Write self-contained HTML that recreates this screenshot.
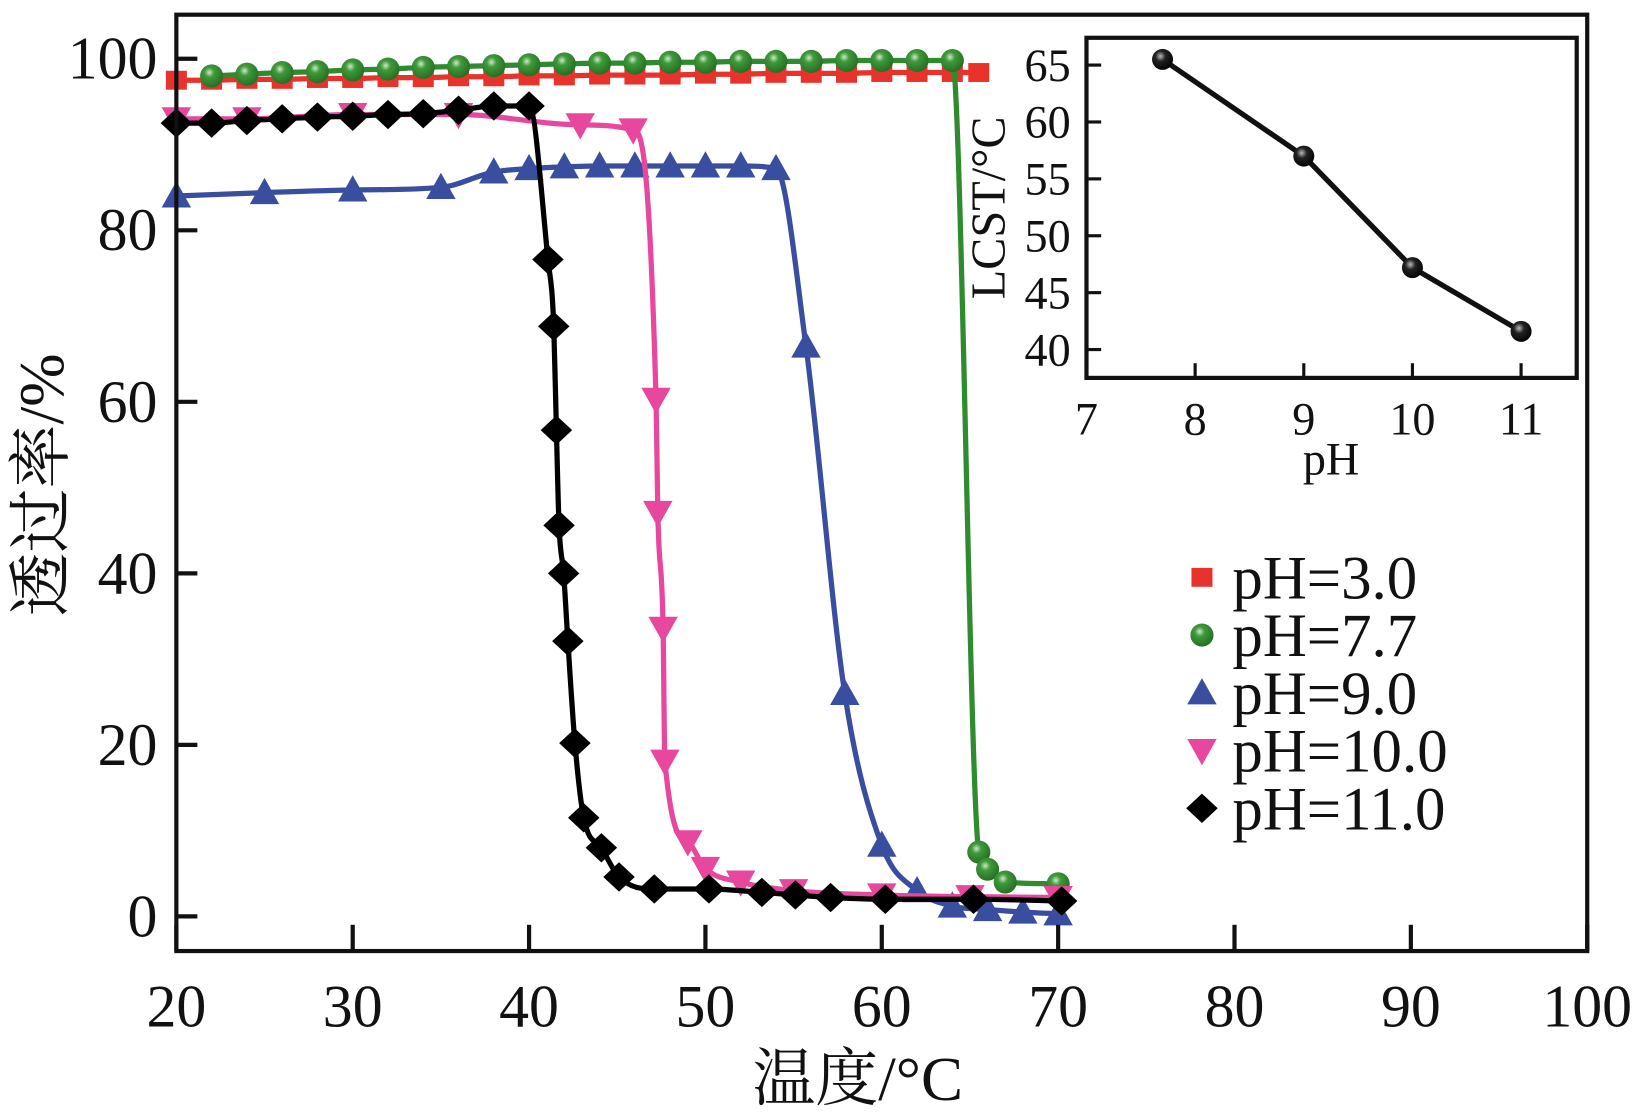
<!DOCTYPE html>
<html><head><meta charset="utf-8"><style>
html,body{margin:0;padding:0;background:#fff;}
svg{display:block;}
text{font-family:"Liberation Serif","Noto Serif CJK SC",serif;fill:#111;}
</style></head><body>
<svg id="chart" width="1646" height="1119" viewBox="0 0 1568 1066" preserveAspectRatio="none" xmlns="http://www.w3.org/2000/svg">
<defs>
<radialGradient id="gball" cx="0.4" cy="0.35" r="0.7"><stop offset="0" stop-color="#cfe8c8"/><stop offset="0.3" stop-color="#3f9a3a"/><stop offset="1" stop-color="#226b22"/></radialGradient>
<radialGradient id="kball" cx="0.4" cy="0.35" r="0.7"><stop offset="0" stop-color="#bbb"/><stop offset="0.35" stop-color="#222"/><stop offset="1" stop-color="#000"/></radialGradient>
</defs>
<g id="main"></g>
<g id="inset"></g>
<g id="legend"></g>
</svg>
<script>
const xTicks=[20,30,40,50,60,70,80,90,100];
const yTicks=[0,20,40,60,80,100];
const t3=[20,22,24,26,28,30,32,34,36,38,40,42,44,46,48,50,52,54,56,58,60,62,64,65.5];
const v3=[97.5,97.5,97.6,97.6,97.7,97.7,97.8,97.8,97.9,97.9,98,98,98.1,98.1,98.1,98.2,98.2,98.3,98.3,98.3,98.4,98.4,98.4,98.4];
const t77=[22,24,26,28,30,32,34,36,38,40,42,44,46,48,50,52,54,56,58,60,62,64,65.5,66,67,70];
const v77=[98,98.2,98.4,98.5,98.7,98.8,99,99.1,99.2,99.3,99.4,99.5,99.5,99.6,99.6,99.7,99.7,99.7,99.8,99.8,99.8,99.8,7.5,5.5,4,3.8];
const t9=[20,25,30,35,38,40,42,44,46,48,50,52,54,55.7,57.9,60,62,64,66,68,70];
const v9=[84,84.4,84.7,85,86.8,87.2,87.4,87.5,87.5,87.5,87.5,87.5,87.2,66.5,26,8.3,3,1.2,0.8,0.5,0.3];
const t10=[20,24,30,36,42.9,45.9,47.2,47.3,47.6,47.7,49,50,52,55,60,65,70];
const v10=[93,93,93.5,93.5,92.3,91.7,60.3,47.1,33.6,18.1,8.7,5.6,4,3,2.5,2.3,2.2];
const t11=[20,22,24,26,28,30,32,34,36,38,40,41.07,41.4,41.55,41.7,41.96,42.2,42.6,43.1,44.1,45.1,47.1,50.2,53.2,55.1,57.1,60.2,65.2,70.2];
const v11=[92.5,92.5,92.8,93,93.2,93.3,93.5,93.6,94,94.5,94.5,76.6,68.8,56.7,45.6,40,32.1,20.2,11.5,8,4.6,3.2,3.2,2.8,2.5,2.2,2,2,1.8];
const insetX=[7.7,9,10,11];
const insetY=[65.5,57,47.2,41.6];
const insetXTicks=[7,8,9,10,11];
const insetYTicks=[40,45,50,55,60,65];
const legendLabels=['pH=3.0','pH=7.7','pH=9.0','pH=10.0','pH=11.0'];

const NS='http://www.w3.org/2000/svg';
function mk(tag,attrs,parent){const e=document.createElementNS(NS,tag);for(const k in attrs)e.setAttribute(k,attrs[k]);parent.appendChild(e);return e;}
const X=v=>168+(v-20)*(1512-168)/80;
const Y=v=>873-v*(873-56)/100;
const main=document.getElementById('main');

function monoPath(xs,ys){
  const n=xs.length;const d=[],m=new Array(n);
  for(let i=0;i<n-1;i++)d.push((ys[i+1]-ys[i])/(xs[i+1]-xs[i]));
  m[0]=d[0];m[n-1]=d[n-2];
  for(let i=1;i<n-1;i++){m[i]=(d[i-1]*d[i]<=0)?0:(d[i-1]+d[i])/2;}
  for(let i=0;i<n-1;i++){if(d[i]===0){m[i]=0;m[i+1]=0;continue;}const a=m[i]/d[i],b=m[i+1]/d[i],s=a*a+b*b;if(s>9){const t=3/Math.sqrt(s);m[i]=t*a*d[i];m[i+1]=t*b*d[i];}}
  let p='M'+xs[0]+','+ys[0];
  for(let i=0;i<n-1;i++){const h=xs[i+1]-xs[i];p+=' C'+(xs[i]+h/3)+','+(ys[i]+m[i]*h/3)+' '+(xs[i+1]-h/3)+','+(ys[i+1]-m[i+1]*h/3)+' '+xs[i+1]+','+ys[i+1];}
  return p;
}
function marker(type,cx,cy,color,parent){
  let e;
  if(type==='sq')e=mk('rect',{x:cx-10,y:cy-9,width:20,height:18,fill:color},parent);
  else if(type==='ci')e=mk('circle',{cx:cx,cy:cy,r:11,fill:'url(#gball)'},parent);
  else if(type==='up')e=mk('polygon',{points:(cx-14)+','+(cy+11)+' '+(cx+14)+','+(cy+11)+' '+cx+','+(cy-14),fill:color},parent);
  else if(type==='dn')e=mk('polygon',{points:(cx-14)+','+(cy-11)+' '+(cx+14)+','+(cy-11)+' '+cx+','+(cy+14),fill:color},parent);
  else e=mk('polygon',{points:cx+','+(cy-14)+' '+(cx+15)+','+cy+' '+cx+','+(cy+14)+' '+(cx-15)+','+cy,fill:color},parent);
  return e;
}
const series=[
 {name:'ph-3',t:t3,v:v3,c:'#e8322c',m:'sq'},
 {name:'ph-7-7',t:t77,v:v77,c:'#2e8b2e',m:'ci'},
 {name:'ph-9',t:t9,v:v9,c:'#3a4ea0',m:'up'},
 {name:'ph-10',t:t10,v:v10,c:'#e8479e',m:'dn'},
 {name:'ph-11',t:t11,v:v11,c:'#000',m:'di'}
];
series.forEach(s=>{
  const g=mk('g',{},main);
  
  
  const xs=s.t.map(X),ys=s.v.map(Y);
  const p=mk('path',{d:monoPath(xs,ys),fill:'none',stroke:s.c,'stroke-width':5},g);
  
  
  xs.forEach((x,i)=>{const e=marker(s.m,x,ys[i],s.c,g);
    
    });
});
const frame=mk('rect',{x:168,y:14,width:1344,height:892,fill:'none',stroke:'#111','stroke-width':4},main);


xTicks.forEach(v=>{
  const l=mk('line',{x1:X(v),x2:X(v),y1:906,y2:881,stroke:'#111','stroke-width':4},main);
  
  
  const t=mk('text',{x:X(v),y:978,'text-anchor':'middle','font-size':57},main);t.textContent=v;
  
  
});
yTicks.forEach(v=>{
  const l=mk('line',{x1:168,x2:188,y1:Y(v),y2:Y(v),stroke:'#111','stroke-width':4},main);
  
  
  const t=mk('text',{x:150,y:Y(v)+19,'text-anchor':'end','font-size':57},main);t.textContent=v;
  
  
});
const xt=mk('text',{x:817,y:1048,'text-anchor':'middle','font-size':60},main);xt.textContent='温度/°C';


const yt=mk('text',{x:0,y:0,'text-anchor':'middle','font-size':61,transform:'translate(60,462) rotate(-90)'},main);yt.textContent='透过率/%';



const inset=document.getElementById('inset');
const IX=v=>1035+(v-7)*103.5;
const IY=v=>62+(65-v)*10.84;
const ib=mk('rect',{x:1035,y:36,width:467,height:324,fill:'#fff',stroke:'#111','stroke-width':4},inset);


insetXTicks.forEach(v=>{
  const l=mk('line',{x1:IX(v),x2:IX(v),y1:360,y2:346,stroke:'#111','stroke-width':3},inset);
  
  
  const t=mk('text',{x:IX(v),y:414,'text-anchor':'middle','font-size':44},inset);t.textContent=v;
  
  
});
insetYTicks.forEach(v=>{
  const l=mk('line',{x1:1035,x2:1049,y1:IY(v),y2:IY(v),stroke:'#111','stroke-width':3},inset);
  
  
  const t=mk('text',{x:1020,y:IY(v)+15,'text-anchor':'end','font-size':44},inset);t.textContent=v;
  
  
});
const ipl=mk('polyline',{points:insetX.map((v,i)=>IX(v)+','+IY(insetY[i])).join(' '),fill:'none',stroke:'#111','stroke-width':5},inset);


insetX.forEach((v,i)=>{const c=mk('circle',{cx:IX(v),cy:IY(insetY[i]),r:10,fill:'url(#kball)'},inset);
  
  });
const ixt=mk('text',{x:1268,y:452,'text-anchor':'middle','font-size':44},inset);ixt.textContent='pH';


const iyt=mk('text',{x:0,y:0,'text-anchor':'middle','font-size':46,transform:'translate(957,198) rotate(-90)'},inset);iyt.textContent='LCST/°C';



const legend=document.getElementById('legend');
legendLabels.forEach((lab,i)=>{
  const y=550+i*55;
  const g=mk('g',{},legend);
  
  
  marker(series[i].m,1145,y,series[i].c,g);
  const t=mk('text',{x:1174,y:y+20,'font-size':58},g);t.textContent=lab;
});
</script>
</body></html>
